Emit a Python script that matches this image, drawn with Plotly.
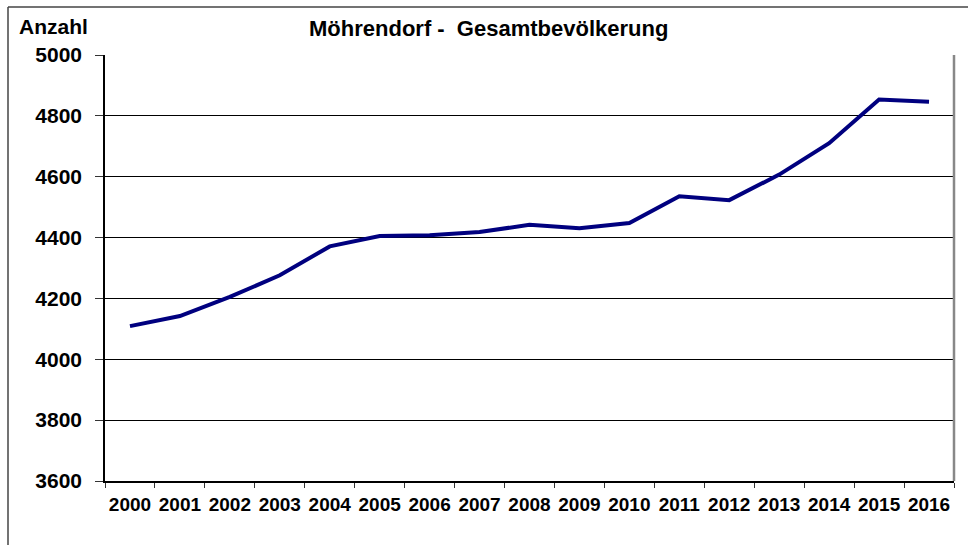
import plotly.graph_objects as go

years = [str(y) for y in range(2000, 2017)]
einwohner = [4109, 4142, 4205, 4276, 4371, 4405, 4408, 4418, 4442, 4431, 4448, 4536, 4523, 4607, 4710, 4854, 4846]
y_ticks = [3600, 3800, 4000, 4200, 4400, 4600, 4800, 5000]

title_text = "Möhrendorf -  Gesamtbevölkerung"
y_label = "Anzahl"

FONT = "Liberation Sans, Arial, sans-serif"

fig = go.Figure()
fig.add_trace(go.Scatter(
    x=years, y=einwohner, mode="lines",
    line=dict(color="#00007f", width=4),
    hoverinfo="x+y", showlegend=False,
))

fig.update_layout(
    width=968, height=545,
    margin=dict(l=105, r=14, t=55, b=64, autoexpand=False),
    paper_bgcolor="white", plot_bgcolor="white",
    font=dict(family=FONT, color="black"),
    xaxis=dict(
        type="category", range=[-0.5, 16.5], automargin=False, tickangle=0,
        tickson="boundaries", ticks="outside", ticklen=5, tickcolor="#333",
        showline=True, linecolor="black", linewidth=1.5,
        showgrid=False, zeroline=False, ticklabelstandoff=5,
        tickfont=dict(family=FONT, size=19, color="black", weight="bold"),
    ),
    yaxis=dict(
        range=[3600, 5000], tickvals=y_ticks, automargin=False,
        ticks="outside", ticklen=8, tickcolor="#333",
        showline=True, linecolor="black", linewidth=1.5,
        showgrid=True, gridcolor="black", gridwidth=1,
        zeroline=False, ticklabelstandoff=9,
        tickfont=dict(family=FONT, size=21, color="black", weight="bold"),
    ),
    annotations=[
        dict(text="<b>" + title_text + "</b>", x=488, y=28.5, xref="paper", yref="paper",
             showarrow=False, font=dict(family=FONT, size=22, color="black")),
        dict(text="<b>" + y_label + "</b>", x=53, y=27, xref="paper", yref="paper",
             showarrow=False, font=dict(family=FONT, size=21, color="black")),
    ],
)

# convert pixel annotation positions to paper coordinates
W, H = 968, 545
l, r, t, b = 105, 14, 55, 64
pw, ph = W - l - r, H - t - b
for a in fig.layout.annotations:
    px, py = a.x, a.y
    a.x = (px - l) / pw
    a.y = (H - b - py) / ph
    a.xanchor = "center"
    a.yanchor = "middle"

def px2paper(px, py):
    return (px - l) / pw, (H - b - py) / ph

# outer frame (top and left edges)
x0, y0 = px2paper(8, 7)
x1, _ = px2paper(968, 7)
_, y1 = px2paper(8, 545)
fig.add_shape(type="line", xref="paper", yref="paper", x0=x0, y0=y0, x1=x1, y1=y0,
              line=dict(color="#444", width=1.5))
fig.add_shape(type="line", xref="paper", yref="paper", x0=x0, y0=y0, x1=x0, y1=y1,
              line=dict(color="#444", width=1.5))
# plot area right border
fig.add_shape(type="line", xref="paper", yref="paper", x0=1, y0=0, x1=1, y1=1,
              line=dict(color="#888", width=2.5))

fig.write_html("out.html", config={"displayModeBar": False},
               post_script="document.body.style.margin='0';document.body.style.overflow='hidden';")
